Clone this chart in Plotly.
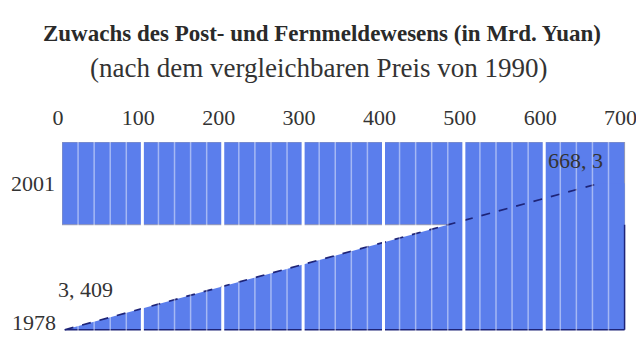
import plotly.graph_objects as go

# ---- data ----
years = [1978, 2001]
values = [3.409, 668.3]
value_labels = ["3, 409", "668, 3"]
year_labels = ["1978", "2001"]
x_ticks = [0, 100, 200, 300, 400, 500, 600, 700]
minor_step = 20
title = "Zuwachs des Post- und Fernmeldewesens (in Mrd. Yuan)"
subtitle = "(nach dem vergleichbaren Preis von 1990)"

# ---- style ----
BLUE = "#5b7eec"
NAVY = "#1e2478"
TEXT = "#333333"
SERIF = "Liberation Serif"
band_width = 13
x_max = x_ticks[-1]
W, H = 636, 349  # page body has an 8px margin

fig = go.Figure()

# 2001 band
fig.add_trace(go.Bar(
    orientation="h", y=[years[1]], x=[x_max], base=0, width=band_width,
    marker=dict(color=BLUE, line=dict(color="#9296b4", width=1)),
    hoverinfo="skip", showlegend=False))

# growth wedge
fig.add_trace(go.Scatter(
    x=[values[0], values[1], x_max, x_max, values[0]],
    y=[years[0], years[1], years[1], years[0], years[0]],
    fill="toself", fillcolor=BLUE, mode="none",
    hoverinfo="skip", showlegend=False))

# bottom edge
fig.add_trace(go.Scatter(
    x=[values[0], x_max], y=[years[0], years[0]], mode="lines",
    line=dict(color=NAVY, width=1.5), hoverinfo="skip", showlegend=False))

# growth line
fig.add_trace(go.Scatter(
    x=values, y=years, mode="lines",
    line=dict(color=NAVY, width=1.7, dash="dash"),
    hoverinfo="skip", showlegend=False))

# white stripes over the blue area (thin every 20, thick every 100)
for v in range(minor_step, x_max, minor_step):
    major = v % (x_ticks[1] - x_ticks[0]) == 0
    fig.add_shape(type="line", xref="x", yref="paper", layer="above",
                  x0=v, x1=v, y0=0, y1=1,
                  line=dict(color="white" if major else "rgba(255,255,255,0.45)",
                            width=3 if major else 1.5))

# right edge
fig.add_shape(type="line", xref="x", yref="y", layer="above",
              x0=x_max, x1=x_max, y0=years[0], y1=years[1] - band_width / 2,
              line=dict(color=NAVY, width=1.5))

# year labels
fig.add_annotation(x=0, y=years[1], xref="x", yref="y", text=year_labels[1],
                   showarrow=False, xanchor="right", yanchor="middle", xshift=-5,
                   font=dict(family=SERIF, size=22, color=TEXT))
fig.add_annotation(x=0, y=years[0], xref="x", yref="y", text=year_labels[0],
                   showarrow=False, xanchor="right", yanchor="middle", xshift=-4, yshift=7,
                   font=dict(family=SERIF, size=22, color=TEXT))

# value labels
fig.add_annotation(x=values[0], y=years[0], xref="x", yref="y", text=value_labels[0],
                   showarrow=False, xanchor="left", yanchor="middle", xshift=-9, yshift=40,
                   font=dict(family=SERIF, size=22, color=TEXT))
fig.add_annotation(x=values[1], y=years[1], xref="x", yref="y", text=value_labels[1],
                   showarrow=False, xanchor="right", yanchor="middle", xshift=6, yshift=23,
                   font=dict(family=SERIF, size=22, color=TEXT))

# subtitle
fig.add_annotation(x=0.455, y=1.3915, xref="paper", yref="paper", text=subtitle,
                   showarrow=False, xanchor="center", yanchor="middle",
                   font=dict(family=SERIF, size=27, color=TEXT))

fig.update_layout(
    width=W, height=H, autosize=False,
    margin=dict(l=54, r=17, t=134, b=26, autoexpand=False),
    paper_bgcolor="white", plot_bgcolor="rgba(0,0,0,0)",
    title=dict(text="<b>" + title + "</b>", x=314 / W, xref="container", xanchor="center",
               y=1 - 25 / H, yanchor="middle", automargin=False,
               font=dict(family=SERIF, size=23, color="#2a2a2a")),
    showlegend=False,
    xaxis=dict(side="top", range=[0, 703], tickvals=x_ticks,
               ticktext=[str(v) for v in x_ticks], automargin=False,
               showgrid=False, zeroline=False, showline=False, ticks="",
               ticklabelstandoff=12, ticklabelshift=-4, ticklabeloverflow="allow",
               tickfont=dict(family=SERIF, size=22, color=TEXT), fixedrange=True),
    yaxis=dict(range=[1977.8, 2007.5], showgrid=False, zeroline=False, showline=False,
               showticklabels=False, ticks="", fixedrange=True, automargin=False),
)

fig.write_html("out.html")
